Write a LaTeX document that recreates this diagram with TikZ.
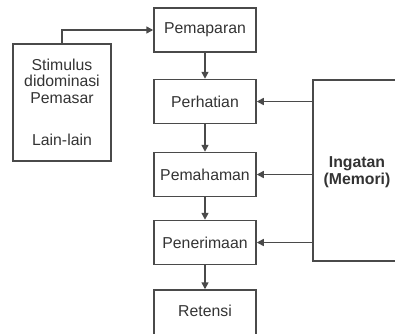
\documentclass[tikz,border=0pt]{standalone}
\usepackage{fontspec}
\setmainfont{Liberation Sans}
\usetikzlibrary{arrows.meta}
\definecolor{linec}{HTML}{4A4A4A}
\definecolor{textc}{HTML}{333333}
\tikzset{
  stagebox/.style={draw=linec, line width=1.5pt, minimum width=102pt, minimum height=44pt, inner sep=0pt, text=textc, font=\fontsize{15.8}{16.5}\selectfont},
  plain/.style={text=textc, inner sep=0pt, align=center, font=\fontsize{15.8}{16.5}\selectfont},
  conn/.style={draw=linec, line width=1.5pt, -{Triangle[length=7pt,width=7pt]}},
}
\begin{document}
\begin{tikzpicture}[x=1pt,y=-1pt]
\useasboundingbox (0,0) rectangle (395,333);
\clip (0,0) rectangle (395,333);
\node[stagebox] (pem) at (205,30) {Pemaparan};
\node[stagebox] (perh) at (205,101.5) {Perhatian};
\node[stagebox] (pmh) at (205,174.5) {Pemahaman};
\node[stagebox] (pen) at (205,242.5) {Penerimaan};
\node[stagebox, minimum height=46pt] (ret) at (205,313) {};
\node[plain] (rett) at (205,311) {Retensi};
\node[draw=linec, line width=1.5pt, minimum width=98pt, minimum height=117pt, inner sep=0pt] (stim) at (62,102.5) {};
\node[plain] (stimt) at (62,81) {Stimulus\\didominasi\\Pemasar};
\node[plain] (lain) at (62,140) {Lain-lain};
\node[draw=linec, line width=1.5pt, minimum width=100pt, minimum height=181pt, inner sep=0pt] (ing) at (363,170.5) {};
\node[plain, font=\bfseries\fontsize{15.8}{17}\selectfont] (ingt) at (357,172) {Ingatan\\(Memori)};
\draw[conn] (stim.north) |- (pem.west);
\draw[conn] (pem.south) -- (perh.north);
\draw[conn] (perh.south) -- (pmh.north);
\draw[conn] (pmh.south) -- (pen.north);
\draw[conn] (pen.south) -- (ret.north);
\draw[conn] (ing.west |- perh.east) -- (perh.east);
\draw[conn] (ing.west |- pmh.east) -- (pmh.east);
\draw[conn] (ing.west |- pen.east) -- (pen.east);
\end{tikzpicture}
\end{document}
